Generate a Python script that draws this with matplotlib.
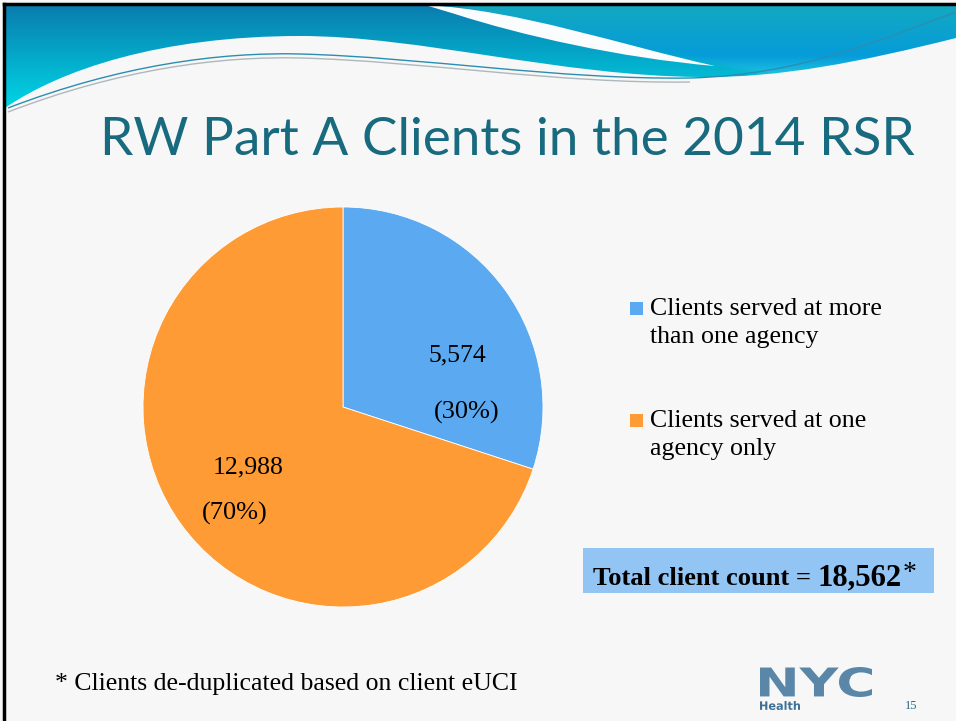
import numpy as np
import matplotlib
matplotlib.use("Agg")
import matplotlib.pyplot as plt
from matplotlib.patches import Rectangle, PathPatch
from matplotlib.path import Path
from matplotlib.textpath import TextPath
from matplotlib.font_manager import FontProperties
from matplotlib.transforms import Affine2D

# data
title = "RW Part A Clients in the 2014 RSR"
categories = ["Clients served at more\nthan one agency", "Clients served at one\nagency only"]
clients = [5574, 12988]
colors = ["#5AA9F1", "#FF9B35"]
total_label = "Total client count = "
footnote = "* Clients de-duplicated based on client eUCI"
page_no = "15"

W, H = 956, 721
fig = plt.figure(figsize=(W / 100, H / 100), dpi=100)
bg = fig.add_axes([0, 0, 1, 1])
bg.axis("off")
bg.add_patch(Rectangle((0, 0), W, H, color="#F7F7F7", zorder=0))

# --- top wave decoration ---
C4, L2, MV = Path.CURVE4, Path.LINETO, Path.MOVETO
band = Path([(5, 5), (956, 5), (956, 38),
             (860, 62), (780, 78), (700, 77),
             (560, 76), (420, 36), (300, 36),
             (160, 36), (60, 70), (5, 108), (5, 5)],
            [MV, L2, L2, C4, C4, C4, C4, C4, C4, C4, C4, C4, L2])
band_patch = PathPatch(band, facecolor="none", edgecolor="none", transform=bg.transData)
bg.add_patch(band_patch)

yy, xx = np.mgrid[0:120, 0:W].astype(float)
t = np.clip(yy / 105, 0, 1)[..., None]
lt, lb = np.array([10, 120, 172]) / 255, np.array([0, 212, 228]) / 255
rt, rm, rb = np.array([20, 170, 190]) / 255, np.array([5, 156, 218]) / 255, np.array([40, 205, 225]) / 255
left = lt * (1 - t) + lb * t
t2 = np.clip(yy / 55, 0, 1)[..., None]
t3 = np.clip((yy - 55) / 25, 0, 1)[..., None]
right = (rt * (1 - t2) + rm * t2) * (1 - t3) + rb * t3
w = np.clip((xx - (430 + 4.67 * (yy - 5))) / 30, 0, 1)[..., None]
img = left * (1 - w) + right * w
im = bg.imshow(img, extent=(0, W, 120, 0), zorder=1, aspect="auto")
im.set_clip_path(band_patch)

streak = Path([(425, 5), (520, 10), (620, 45), (715, 66),
               (620, 58), (520, 35), (455, 14), (425, 5)],
              [MV, C4, C4, C4, C4, C4, C4, L2])
bg.add_patch(PathPatch(streak, facecolor="#FBFCFD", edgecolor="none", zorder=2))

curve = [(8, 108), (120, 65), (220, 52), (300, 54),
         (420, 57), (560, 80), (690, 78),
         (800, 75), (880, 40), (956, 12)]
codes = [MV] + [C4] * 9
bg.add_patch(PathPatch(Path(curve, codes), fill=False, edgecolor="#2C8DB2", lw=1.0, zorder=3))
gray = [(x, y + 4) for x, y in curve[:7]]
bg.add_patch(PathPatch(Path(gray, codes[:7]), fill=False, edgecolor="#AEB8BC", lw=1.0, zorder=3))

# border
bg.plot([4, 4], [4, H], color="black", lw=2.5, zorder=5)
bg.plot([4, W], [4, 4], color="black", lw=2.5, zorder=5)
bg.set_xlim(0, W)
bg.set_ylim(H, 0)

renderer = fig.canvas.get_renderer()


def fit(txt, width):
    wd = txt.get_window_extent(renderer).width
    txt.set_fontsize(txt.get_fontsize() * width / wd)
    return txt


# title
fit(bg.text(100, 155, title, fontsize=36, family="Lato", color="#186A7F", va="baseline"), 815)

# --- pie ---
ax = fig.add_axes([143 / W, (H - 607) / H, 400 / W, 400 / H])
ax.pie(clients, colors=colors, startangle=90, counterclock=False, radius=1,
       wedgeprops=dict(edgecolor="white", linewidth=0.6))
ax.set_xlim(-1, 1)
ax.set_ylim(-1, 1)

pcts = [100 * c / sum(clients) for c in clients]
num_pos = [(0.57, 0.26), (-0.475, -0.30)]
pct_pos = [(0.62, -0.025), (-0.54, -0.53)]
for c, p, npos, ppos in zip(clients, pcts, num_pos, pct_pos):
    ax.text(*npos, f"{c:,}", ha="center", va="center", fontsize=18.5, family="Liberation Serif")
    ax.text(*ppos, f"({p:.0f}%)", ha="center", va="center", fontsize=19, family="Liberation Serif")

# --- legend ---
leg_base = [315, 427]
t0 = fit(bg.text(650, leg_base[0], categories[0].split("\n")[0], fontsize=16,
                 family="Liberation Serif", va="baseline"), 232)
leg_size = t0.get_fontsize()
for i, cat in enumerate(categories):
    bg.add_patch(Rectangle((630, leg_base[i] - 13), 13, 13, color=colors[i], lw=0))
    for j, line in enumerate(cat.split("\n")):
        if i == 0 and j == 0:
            continue
        bg.text(650, leg_base[i] + 28 * j, line, fontsize=leg_size,
                family="Liberation Serif", va="baseline")

# --- total box ---
bg.add_patch(Rectangle((583, 548), 351, 45, color="#93C5F4", lw=0))
tl = fit(bg.text(593, 585, total_label.strip(), fontsize=14, family="Liberation Serif",
                 weight="bold", va="baseline"), 219)
fit(bg.text(818, 585, f"{sum(clients):,}", fontsize=20, family="Liberation Serif",
            weight="bold", va="baseline"), 84)
bg.text(903, 580, "*", fontsize=tl.get_fontsize() * 1.05, family="Liberation Serif",
        va="baseline")

# footnote
fit(bg.text(55, 690, footnote, fontsize=15, family="Liberation Serif", va="baseline"), 465)

# NYC logo
def logo(s, box, color, weight="heavy"):
    tp = TextPath((0, 0), s, size=50, prop=FontProperties(family="DejaVu Sans", weight=weight))
    ext = tp.get_extents()
    x0, y0, x1, y1 = box
    tr = (Affine2D().translate(-ext.x0, -ext.y0)
          .scale((x1 - x0) / ext.width, -(y1 - y0) / ext.height).translate(x0, y1))
    bg.add_patch(PathPatch(tr.transform_path(tp), facecolor=color, edgecolor="none", zorder=4))


logo("NYC", (760, 667, 872, 697), "#5A87A8")
logo("Health", (760, 701, 800, 710), "#3F6F96", weight="bold")
bg.text(905, 709, page_no, fontsize=9, family="Liberation Serif", color="#2B6C86", va="baseline")

fig.savefig("out.png", dpi=100)
